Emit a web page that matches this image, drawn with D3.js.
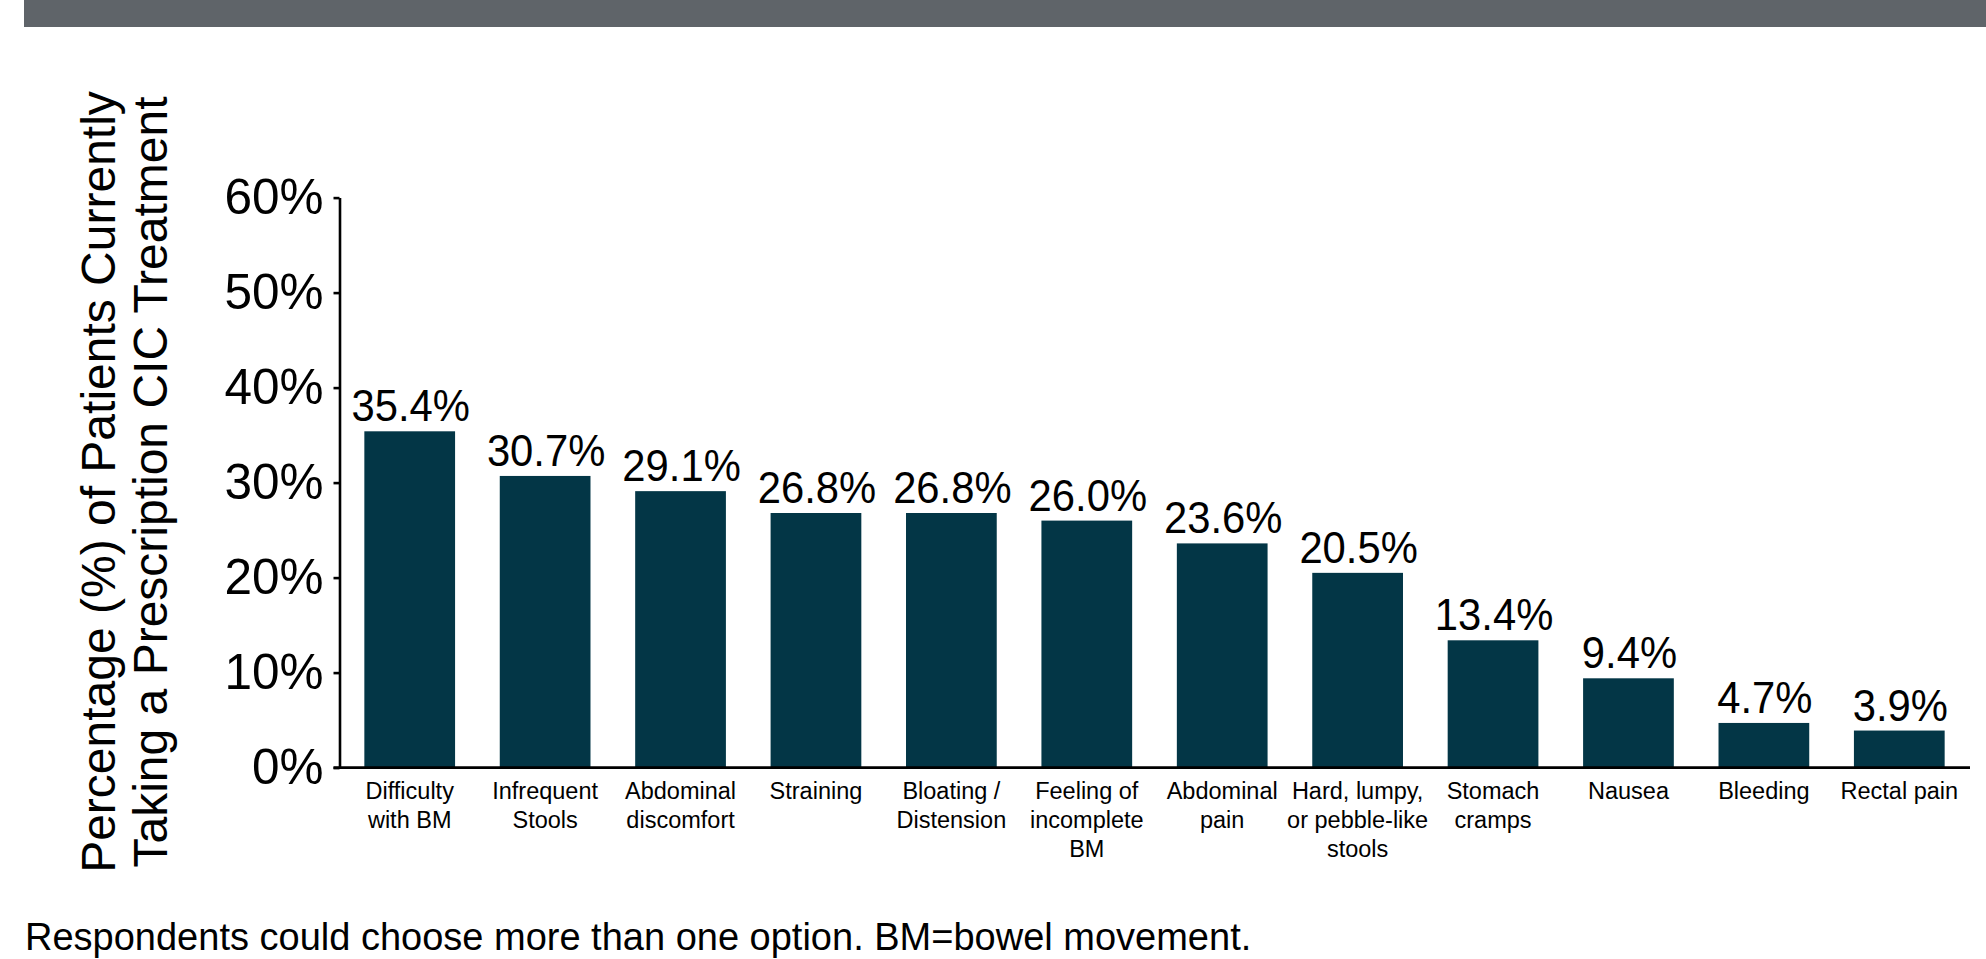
<!DOCTYPE html>
<html>
<head>
<meta charset="utf-8">
<script src="https://cdn.jsdelivr.net/npm/d3@7"></script>
<style>
  html, body { margin: 0; padding: 0; background: #ffffff; }
  svg { display: block; }
  text { font-family: "Liberation Sans", Arial, Helvetica, sans-serif; fill: #000; }
</style>
</head>
<body>
<script>
// Symptoms reported, one bar per symptom (label lines split for wrapping)
const categories = [
  ["Difficulty", "with BM"],
  ["Infrequent", "Stools"],
  ["Abdominal", "discomfort"],
  ["Straining"],
  ["Bloating /", "Distension"],
  ["Feeling of", "incomplete", "BM"],
  ["Abdominal", "pain"],
  ["Hard, lumpy,", "or pebble-like", "stools"],
  ["Stomach", "cramps"],
  ["Nausea"],
  ["Bleeding"],
  ["Rectal pain"]
];
const values = [35.4, 30.7, 29.1, 26.8, 26.8, 26.0, 23.6, 20.5, 13.4, 9.4, 4.7, 3.9];
const yTicks = [0, 10, 20, 30, 40, 50, 60];
const yTitleLines = ["Percentage (%) of Patients Currently", "Taking a Prescription CIC Treatment"];
const footnote = "Respondents could choose more than one option. BM=bowel movement.";

const W = 1986, H = 959;
const barColor = "#033646";
const bannerColor = "#5f6469";

const svg = d3.select("body").append("svg")
  .attr("width", W).attr("height", H);

// Header band
svg.append("rect")
  .attr("x", 24).attr("y", 0)
  .attr("width", W - 24).attr("height", 27)
  .attr("fill", bannerColor);

const axisX = 339.5;
const x = d3.scaleBand()
  .domain(d3.range(categories.length))
  .range([342, 1967])
  .paddingInner(0.33)
  .paddingOuter(0.165);

const y = d3.scaleLinear()
  .domain([0, 60])
  .range([767.6, 197.6]);

// Bars
svg.append("g").selectAll("rect")
  .data(values)
  .join("rect")
  .attr("x", (d, i) => x(i))
  .attr("y", d => y(d))
  .attr("width", x.bandwidth())
  .attr("height", d => y(0) - y(d))
  .attr("fill", barColor);

// Value labels above the bars (slightly condensed, tall glyphs)
svg.append("g").selectAll("text")
  .data(values)
  .join("text")
  .attr("transform", (d, i) => `translate(${x(i) + x.bandwidth() / 2 + 1},${y(d) - 10}) scale(0.95,1)`)
  .attr("text-anchor", "middle")
  .attr("font-size", 44)
  .text(d => d.toFixed(1) + "%");

// Y axis
const gy = svg.append("g")
  .attr("transform", `translate(${axisX},0)`)
  .call(d3.axisLeft(y)
    .tickValues(yTicks)
    .tickFormat(d => d + "%")
    .tickSize(6)
    .tickSizeOuter(0)
    .tickPadding(10));
gy.select(".domain").attr("stroke", "#000").attr("stroke-width", 2.6);
gy.selectAll(".tick line").attr("stroke", "#000").attr("stroke-width", 2.6);
gy.selectAll(".tick text")
  .attr("font-family", "'Liberation Sans', Arial, sans-serif")
  .attr("font-size", 49.5)
  .attr("fill", "#000");

// X axis baseline
const gx = svg.append("g")
  .attr("transform", `translate(0,${y(0)})`)
  .call(d3.axisBottom(x).tickSize(0).tickFormat(() => ""));
gx.select(".domain").remove();
gx.append("line")
  .attr("x1", axisX - 6).attr("x2", x.range()[1] + 3)
  .attr("y1", 0).attr("y2", 0)
  .attr("stroke", "#000").attr("stroke-width", 2.8);

// Category labels (multi-line)
const catLabels = svg.append("g").selectAll("text")
  .data(categories)
  .join("text")
  .attr("text-anchor", "middle")
  .attr("font-size", 23.5)
  .attr("x", (d, i) => x(i) + x.bandwidth() / 2)
  .attr("y", y(0) + 31);
catLabels.selectAll("tspan")
  .data(d => d)
  .join("tspan")
  .attr("x", function () { return this.parentNode.getAttribute("x"); })
  .attr("dy", (d, j) => j === 0 ? 0 : 29)
  .text(d => d);

// Y axis title, two rotated lines
const titleCenterY = 482;
svg.append("g").selectAll("text")
  .data(yTitleLines)
  .join("text")
  .attr("transform", (d, i) => `translate(${[115, 167][i]},${titleCenterY}) rotate(-90)`)
  .attr("text-anchor", "middle")
  .attr("font-size", 48)
  .text(d => d);

// Footnote
svg.append("text")
  .attr("x", 25).attr("y", 950)
  .attr("font-size", 38)
  .text(footnote);
</script>
</body>
</html>
